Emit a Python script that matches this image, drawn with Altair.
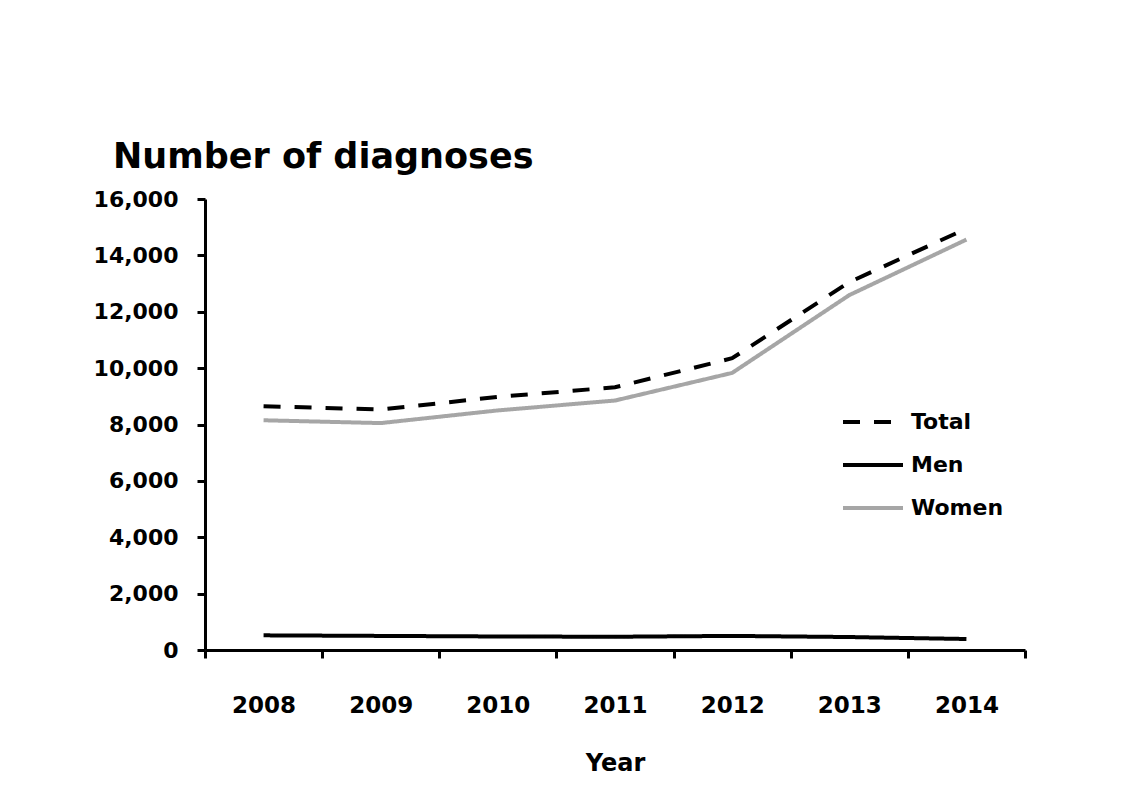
import altair as alt
import pandas as pd

years = ["2008", "2009", "2010", "2011", "2012", "2013", "2014"]
total = [8650, 8530, 8980, 9320, 10350, 13050, 14950]
men = [520, 500, 480, 470, 500, 460, 390]
women = [8150, 8050, 8500, 8850, 9830, 12590, 14560]
series = ["Total", "Men", "Women"]
y_ticks = [0, 2000, 4000, 6000, 8000, 10000, 12000, 14000, 16000]

rows = []
for name, vals in zip(series, [total, men, women]):
    for yr, v in zip(years, vals):
        rows.append({"year": yr, "value": v, "series": name})
df = pd.DataFrame(rows)

FONT = "DejaVu Sans"

chart = alt.Chart(df).mark_line(strokeWidth=4).encode(
    x=alt.X(
        "year:O",
        bandPosition=0.5,
        scale=alt.Scale(type="band", paddingInner=0, paddingOuter=0),
        axis=alt.Axis(
            title="Year",
            tickBand="extent",
            labelAngle=0,
            labelPadding=36,
            titlePadding=34,
            labelFontSize=23,
            titleFontSize=24,
        ),
    ),
    y=alt.Y(
        "value:Q",
        scale=alt.Scale(domain=[0, 16000], nice=False),
        axis=alt.Axis(
            title=None,
            values=y_ticks,
            format=",d",
            labelPadding=19,
            labelFontSize=22,
        ),
    ),
    color=alt.Color(
        "series:N",
        sort=series,
        scale=alt.Scale(domain=series, range=["#000000", "#000000", "#a6a6a6"]),
        legend=alt.Legend(title=None),
    ),
    strokeDash=alt.StrokeDash(
        "series:N",
        sort=series,
        scale=alt.Scale(domain=series, range=[[17, 14], [1, 0], [1, 0]]),
        legend=alt.Legend(title=None),
    ),
    order=alt.Order("year:O"),
).properties(
    width=820,
    height=451,
    title=alt.Title(
        "Number of diagnoses",
        anchor="start",
        frame="group",
        dx=-92,
        dy=45,
        offset=30,
        baseline="alphabetic",
        fontSize=35,
        fontWeight="bold",
        font=FONT,
        color="#000000",
    ),
    autosize=alt.AutoSizeParams(type="none"),
    padding={"left": 197, "top": 191, "right": 100, "bottom": 130},
).configure_view(
    stroke=None
).configure_axis(
    grid=False,
    domainColor="#000000",
    domainWidth=3,
    tickColor="#000000",
    tickWidth=3,
    tickSize=8,
    labelFont=FONT,
    labelFontWeight="bold",
    labelColor="#000000",
    titleFont=FONT,
    titleFontWeight="bold",
    titleColor="#000000",
).configure_legend(
    orient="none",
    legendX=636,
    legendY=191,
    symbolType="stroke",
    symbolSize=3600,
    symbolStrokeWidth=4,
    labelFont=FONT,
    labelFontWeight="bold",
    labelFontSize=22,
    labelColor="#000000",
    labelOffset=6,
    rowPadding=-13,
    padding=0,
)

chart.save("out.html", embed_options={"renderer": "svg", "actions": False})
